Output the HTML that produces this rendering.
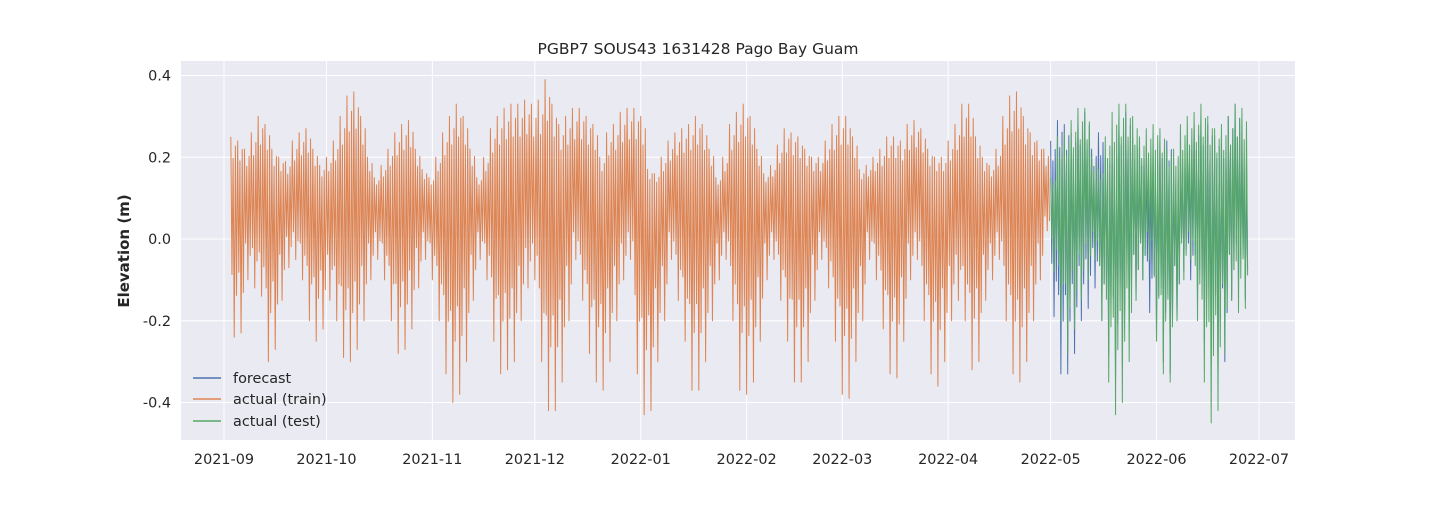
<!DOCTYPE html>
<html><head><meta charset="utf-8"><style>
body{margin:0;background:#fff;font-family:"Liberation Sans","DejaVu Sans",sans-serif}
svg text{font-family:"DejaVu Sans","Liberation Sans",sans-serif}
</style></head><body>
<svg id="chart" width="1440" height="504">
<rect x="181" y="61" width="1114" height="379" fill="#eaeaf2"/>
<g id="grid"></g><g id="series"></g><g id="axes"></g>
<text x="698" y="54" text-anchor="middle" font-size="15.5" fill="#262626">PGBP7 SOUS43 1631428 Pago Bay Guam</text>
<text transform="translate(129,251) rotate(-90)" text-anchor="middle" font-size="15" font-weight="bold" fill="#262626">Elevation (m)</text>
<g>
<line x1="193" y1="378" x2="221" y2="378" stroke="#4c72b0" stroke-width="1.5"/><text x="233" y="383" font-size="14.4" fill="#262626">forecast</text>
<line x1="193" y1="399" x2="221" y2="399" stroke="#dd8452" stroke-width="1.5"/><text x="233" y="404" font-size="14.4" fill="#262626">actual (train)</text>
<line x1="193" y1="421" x2="221" y2="421" stroke="#55a868" stroke-width="1.5"/><text x="233" y="426" font-size="14.4" fill="#262626">actual (test)</text>
</g>
</svg>
<script>
const xTickLabels=["2021-09","2021-10","2021-11","2021-12","2022-01","2022-02","2022-03","2022-04","2022-05","2022-06","2022-07"];
const xTickDays=[0,30,61,91,122,153,181,212,242,273,303];
const yTicks=[-0.4,-0.2,0.0,0.2,0.4];
const trainStartDay=2;
const trainHigh=[0.25,0.24,0.22,0.26,0.3,0.28,0.22,0.2,0.19,0.24,0.26,0.27,0.22,0.18,
0.2,0.24,0.3,0.35,0.36,0.3,0.2,0.15,0.18,0.22,0.26,0.28,0.29,0.22,0.17,
0.15,0.2,0.26,0.3,0.33,0.3,0.22,0.15,0.2,0.27,0.3,0.32,0.33,0.33,0.34,
0.33,0.34,0.39,0.33,0.28,0.3,0.32,0.32,0.3,0.28,0.2,0.26,0.28,0.31,0.32,
0.32,0.3,0.17,0.16,0.2,0.24,0.26,0.27,0.28,0.3,0.28,0.22,0.15,0.2,0.28,
0.31,0.33,0.3,0.22,0.16,0.18,0.23,0.27,0.26,0.25,0.22,0.2,0.2,0.24,0.28,
0.3,0.3,0.25,0.17,0.18,0.2,0.22,0.25,0.25,0.24,0.28,0.29,0.27,0.22,0.2,
0.2,0.24,0.28,0.33,0.33,0.25,0.2,0.18,0.22,0.3,0.35,0.36,0.3,0.26,0.24,0.22];
const trainLow=[-0.24,-0.23,-0.1,-0.12,-0.14,-0.3,-0.27,-0.15,-0.07,-0.05,-0.1,-0.2,-0.25,-0.22,
-0.15,-0.2,-0.29,-0.3,-0.27,-0.2,-0.1,-0.05,-0.1,-0.2,-0.28,-0.27,-0.22,-0.12,-0.05,
-0.1,-0.2,-0.33,-0.4,-0.38,-0.3,-0.15,-0.05,-0.1,-0.25,-0.33,-0.32,-0.3,-0.2,-0.12,
-0.1,-0.3,-0.42,-0.42,-0.35,-0.2,-0.05,-0.15,-0.28,-0.35,-0.37,-0.3,-0.2,-0.1,-0.05,
-0.33,-0.43,-0.42,-0.3,-0.2,-0.05,-0.15,-0.25,-0.37,-0.37,-0.3,-0.2,-0.1,-0.05,-0.2,
-0.37,-0.38,-0.35,-0.25,-0.1,-0.05,-0.15,-0.25,-0.35,-0.35,-0.3,-0.15,-0.05,-0.12,-0.25,
-0.38,-0.39,-0.3,-0.2,-0.05,-0.1,-0.22,-0.33,-0.34,-0.25,-0.1,-0.05,-0.2,-0.33,-0.36,
-0.3,-0.2,-0.15,-0.2,-0.32,-0.3,-0.15,-0.1,-0.05,-0.2,-0.33,-0.35,-0.3,-0.2,-0.1,0.02];
const testStartDay=242;
const testHigh=[0.15,0.25,0.26,0.29,0.32,0.32,0.2,0.17,0.25,0.31,0.33,0.33,0.3,0.25,0.27,0.28,0.27,0.22,0.22,0.28,0.3,0.31,0.33,0.3,0.27,0.28,0.3,0.33,0.32];
const testLow=[-0.08,-0.2,-0.28,-0.22,-0.15,-0.1,-0.05,-0.2,-0.35,-0.43,-0.4,-0.3,-0.15,-0.1,-0.05,-0.25,-0.33,-0.35,-0.2,-0.1,-0.05,-0.2,-0.35,-0.45,-0.42,-0.28,-0.15,-0.18,-0.17];
const fcHigh=[0.24,0.29,0.28,0.26,0.3,0.31,0.22,0.26,0.2,0.22,0.3,0.31,0.25,0.22,0.18,0.2,0.25,0.24,0.15,0.2,0.24,0.28,0.3,0.28,0.25,0.25,0.3,0.33,0.2];
const fcLow=[-0.19,-0.33,-0.33,-0.28,-0.2,-0.17,-0.12,-0.2,-0.28,-0.34,-0.3,-0.2,-0.15,-0.1,-0.18,-0.24,-0.3,-0.33,-0.2,-0.08,-0.1,-0.15,-0.25,-0.3,-0.33,-0.3,-0.15,-0.1,-0.15];

const NS="http://www.w3.org/2000/svg";
const xs=d=>224+d*(1035/303);
const ys=v=>239-v*408.75;
function mk(tag,attrs,parent){const e=document.createElementNS(NS,tag);for(const k in attrs)e.setAttribute(k,attrs[k]);document.getElementById(parent).appendChild(e);return e;}
xTickDays.forEach((d,i)=>{
  const l=mk('line',{x1:xs(d),x2:xs(d),y1:61,y2:440,stroke:'#fff','stroke-width':1},'grid');
  
  
  const t=mk('text',{x:xs(d),y:464,'text-anchor':'middle','font-size':14.4,fill:'#262626'},'axes');
  t.textContent=xTickLabels[i];
  
  
});
yTicks.forEach(v=>{
  const l=mk('line',{x1:181,x2:1295,y1:ys(v),y2:ys(v),stroke:'#fff','stroke-width':1},'grid');
  
  
  const t=mk('text',{x:171,y:ys(v)+5,'text-anchor':'end','font-size':14.4,fill:'#262626'},'axes');
  t.textContent=v.toFixed(1);
  
  
});
const hiScale=[1,0.65,0.85];
const loScale=[0.55,1,0.7];
function series(start,hi,lo,color,name){
  const pts=[];const n=Math.min(hi.length,lo.length);
  for(let i=0;i<n;i++){
    for(let k=0;k<3;k++){
      const mid=0.1;
      const h=mid+(hi[i]-mid)*hiScale[k];
      const l=mid+(lo[i]-mid)*loScale[k];
      pts.push(xs(start+2*i+k*2/3)+','+ys(h));
      pts.push(xs(start+2*i+k*2/3+1/3)+','+ys(l));
    }
  }
  const p=mk('polyline',{points:pts.join(' '),fill:'none',stroke:color,'stroke-width':1.0,'stroke-linejoin':'round'},'series');
  
  
}
series(trainStartDay,trainHigh,trainLow,'#dd8452','train-line');
series(testStartDay,fcHigh,fcLow,'#4c72b0','forecast-line');
series(testStartDay,testHigh,testLow,'#55a868','test-line');
</script>
</body></html>
